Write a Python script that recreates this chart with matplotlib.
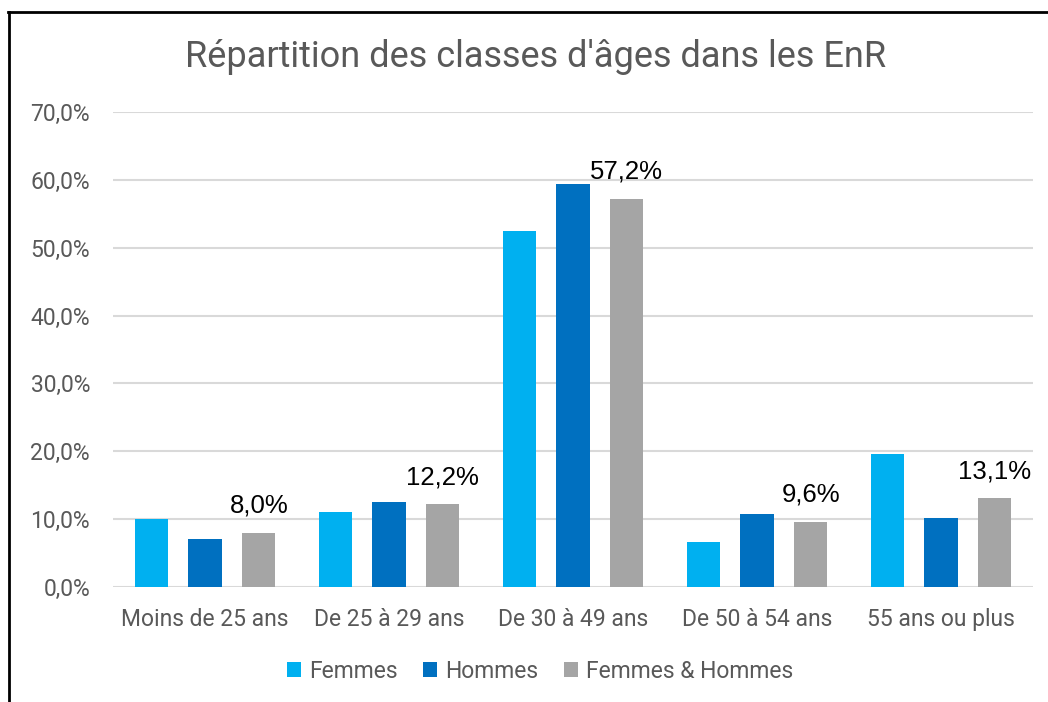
import matplotlib
matplotlib.use("Agg")
import matplotlib.pyplot as plt
from matplotlib.patches import Patch
from matplotlib.lines import Line2D
import numpy as np

# données
categories = ["Moins de 25 ans", "De 25 à 29 ans", "De 30 à 49 ans", "De 50 à 54 ans", "55 ans ou plus"]
femmes = [0.100, 0.110, 0.524, 0.067, 0.196]
hommes = [0.071, 0.125, 0.594, 0.108, 0.101]
ensemble = [0.080, 0.122, 0.572, 0.096, 0.131]
series_names = ["Femmes", "Hommes", "Femmes & Hommes"]
colors = ["#00B0F0", "#0070C0", "#A5A5A5"]
title = "Répartition des classes d'âges dans les EnR"

plt.rcParams["font.family"] = ["Roboto", "DejaVu Sans"]
grey_txt = "#595959"

fig = plt.figure(figsize=(10.48, 7.02), dpi=100)
ax = fig.add_axes([113 / 1048, 1 - 587 / 702, 920 / 1048, 475 / 702])

x = np.arange(len(categories))
width = 0.18
offset = 0.293
for i, (vals, name, col) in enumerate(zip([femmes, hommes, ensemble], series_names, colors)):
    ax.bar(x + (i - 1) * offset, vals, width, color=col, label=name, zorder=3)

# étiquettes seulement pour Femmes & Hommes
for xi, v in zip(x, ensemble):
    ax.annotate(f"{v * 100:.1f}%".replace(".", ","), (xi + offset, v), xytext=(0, 19.5),
                textcoords="offset points", ha="center", va="center",
                fontsize=18.5, family=["Liberation Sans"], color="black")

ax.set_xlim(-0.5, len(categories) - 0.5)
ax.set_ylim(0, 0.7)
ax.set_yticks(np.arange(0, 0.71, 0.1))
ax.set_yticklabels([f"{t * 100:.1f}%".replace(".", ",") for t in np.arange(0, 0.71, 0.1)])
ax.set_xticks(x)
ax.set_xticklabels(categories)
ax.tick_params(axis="both", length=0, labelsize=16.5, labelcolor=grey_txt)
ax.tick_params(axis="y", pad=16.5)
ax.tick_params(axis="x", pad=15)
ax.grid(axis="y", color="#D9D9D9", linewidth=1.5, zorder=0)
for s in ax.spines.values():
    s.set_visible(False)

fig.text(536 / 1048, 1 - 57 / 702, title, ha="center", va="center", fontsize=26, color=grey_txt)

handles = [Patch(facecolor=c, edgecolor="none") for c in colors]
fig.legend(handles, series_names, loc="center", bbox_to_anchor=(540 / 1048, 1 - 671 / 702),
           ncol=3, frameon=False, fontsize=16.5, labelcolor=grey_txt,
           handlelength=0.62, handleheight=0.62, handletextpad=0.35, columnspacing=1.1)

# cadre : seulement à gauche et en haut
fig.add_artist(Line2D([8.5 / 1048, 8.5 / 1048], [0, 1 - 12 / 702], color="black", linewidth=2, transform=fig.transFigure))
fig.add_artist(Line2D([8 / 1048, 1], [1 - 12 / 702, 1 - 12 / 702], color="black", linewidth=2, transform=fig.transFigure))

fig.savefig("out.png", dpi=100)
